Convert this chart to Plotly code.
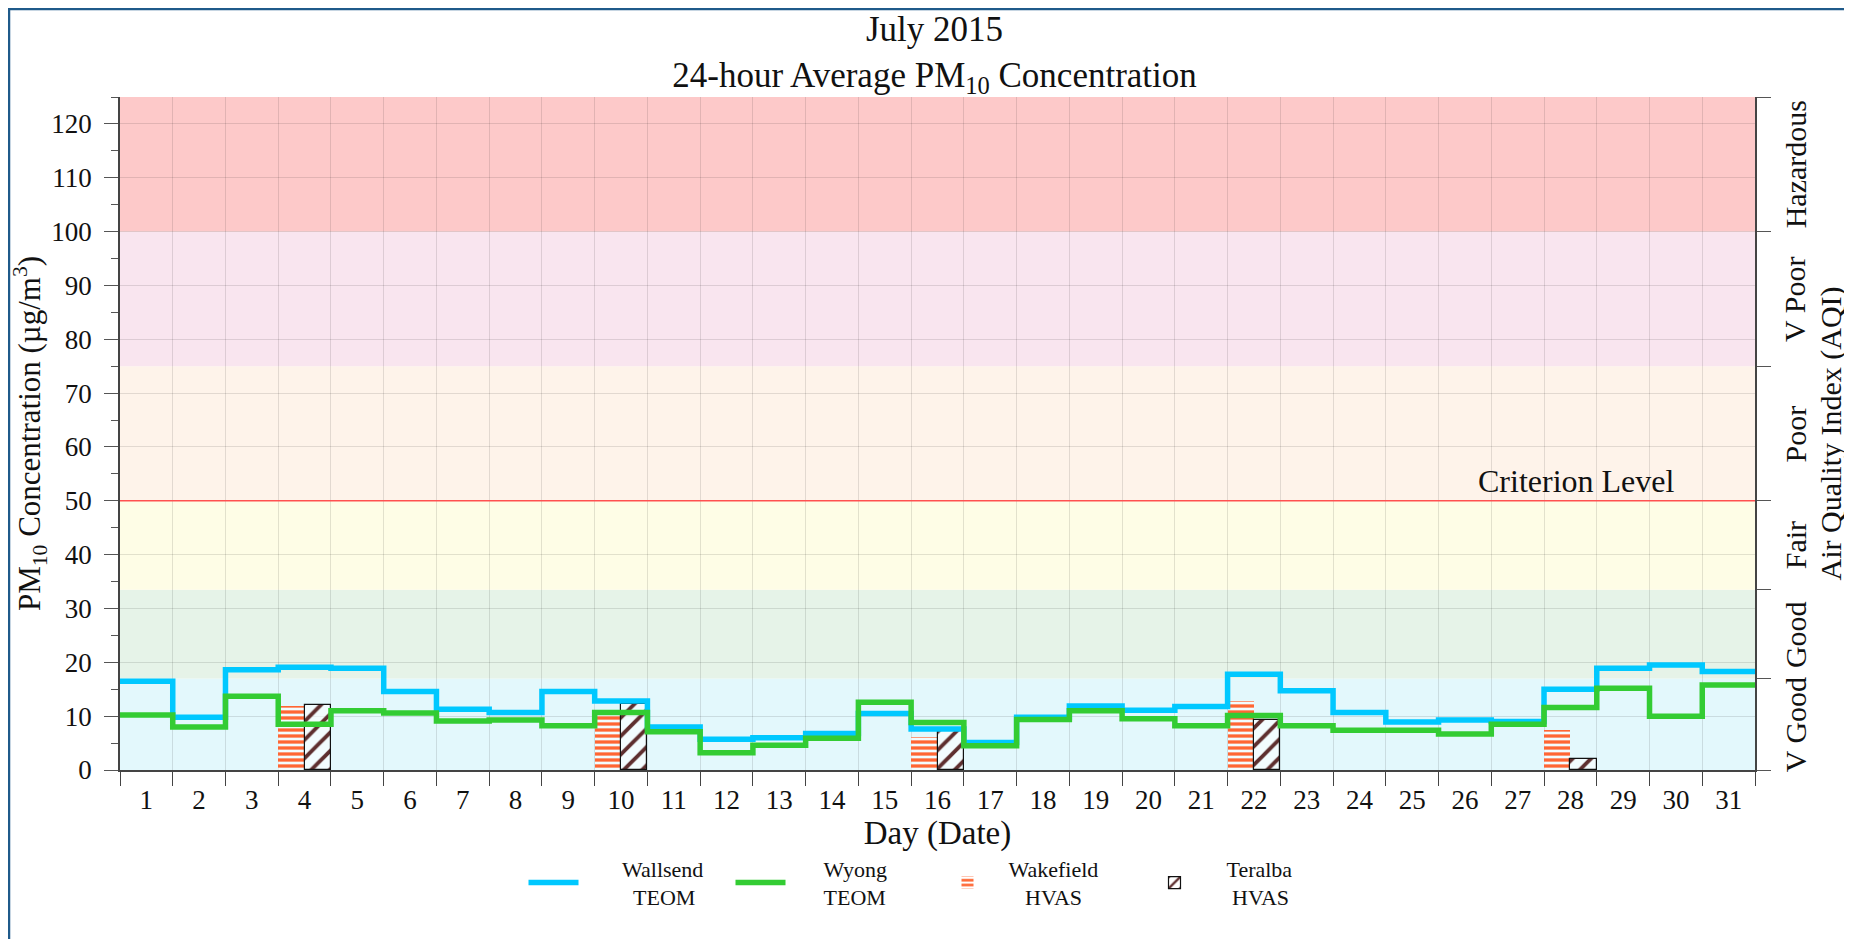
import plotly.graph_objects as go

# ---------------- data ----------------
days = list(range(1, 32))
wallsend_teom = [16.5, 9.8, 18.6, 19.1, 18.9, 14.6, 11.3, 10.7, 14.6, 12.8,
                 8.0, 5.7, 6.0, 6.8, 10.5, 7.6, 5.1, 9.8, 11.9, 11.1,
                 11.8, 17.8, 14.7, 10.7, 8.9, 9.3, 9.0, 15.0, 18.9, 19.5, 18.3]
wyong_teom = [10.2, 8.0, 13.7, 8.5, 11.0, 10.6, 9.1, 9.3, 8.2, 10.7,
              7.1, 3.2, 4.6, 5.9, 12.6, 8.8, 4.5, 9.4, 11.0, 9.5,
              8.2, 10.1, 8.2, 7.4, 7.4, 6.7, 8.5, 11.6, 15.2, 10.0, 15.8]
hvas_days = [4, 10, 16, 22, 28]
wakefield_hvas = [11.9, 10.5, 6.2, 12.9, 7.4]
teralba_hvas = [12.0, 12.2, 7.2, 9.3, 2.0]

aqi_bounds = [0, 17, 33.5, 50, 75, 100, 125]
aqi_labels = ["V Good", "Good", "Fair", "Poor", "V Poor", "Hazardous"]
aqi_colors = ["#e3f8fc", "#e6f3e8", "#fefde6", "#fef3ea", "#f9e5ef", "#fdc9c9"]
criterion_level = 50

FONT = "Liberation Serif"
NB = "\u00a0"


def two_line(a, b, lead, pad_b):
    return NB * lead + a + "<br>" + NB * (lead + pad_b) + b


# step edges
edges = [d - 0.5 for d in days] + [days[-1] + 0.5]

fig = go.Figure()

fig.add_trace(go.Bar(
    x=[d - 0.25 for d in hvas_days], y=wakefield_hvas, width=0.5,
    name=two_line("Wakefield", "HVAS", 2, 3), legendrank=3, opacity=1,
    marker=dict(color="#ff6a33", line=dict(width=0), opacity=1,
                pattern=dict(shape="-", fgcolor="#ff6633",
                             bgcolor="rgba(255,255,255,0.55)", size=6, solidity=0.55,
                             fillmode="replace")),
))
fig.add_trace(go.Bar(
    x=[d + 0.25 for d in hvas_days], y=teralba_hvas, width=0.5,
    name=two_line("Teralba", "HVAS", 4, 1), legendrank=4, opacity=1,
    marker=dict(color="#5e2f2f", line=dict(width=1.2, color="#111111"), opacity=1,
                pattern=dict(shape="/", fgcolor="#5e2f2f",
                             bgcolor="rgba(255,255,255,0.55)", size=13, solidity=0.3,
                             fillmode="replace")),
))
fig.add_trace(go.Scatter(
    x=edges, y=wallsend_teom + [wallsend_teom[-1]], mode="lines",
    line=dict(color="#00c8ff", width=5.5, shape="hv"),
    name=two_line("Wallsend", "TEOM", 7, 2), legendrank=1,
))
fig.add_trace(go.Scatter(
    x=edges, y=wyong_teom + [wyong_teom[-1]], mode="lines",
    line=dict(color="#33cc33", width=5.5, shape="hv"),
    name=two_line("Wyong", "TEOM", 6, 0), legendrank=2,
))

shapes = []
for i, lab in enumerate(aqi_labels):
    shapes.append(dict(type="rect", xref="paper", yref="y", x0=0, x1=1,
                       y0=aqi_bounds[i], y1=aqi_bounds[i + 1],
                       fillcolor=aqi_colors[i], line=dict(width=0), layer="below"))
shapes.append(dict(type="line", xref="paper", yref="y", x0=0, x1=1,
                   y0=criterion_level, y1=criterion_level,
                   line=dict(color="#ff5050", width=1.5), layer="above"))

W, H = 1852, 939
ml, mr, mt, mb = 112, 105, 89, 177
pw, ph = W - ml - mr, H - mt - mb
def px(xpix):
    return (xpix - ml) / pw
def py(ypix):
    return (H - mb - ypix) / ph

# outer border (top and left visible)
shapes.append(dict(type="rect", xref="paper", yref="paper",
                   x0=px(1), x1=px(W + 40), y0=py(H + 40), y1=py(1),
                   line=dict(color="#1f5a8a", width=2.5), fillcolor="rgba(0,0,0,0)",
                   layer="above"))

annotations = []
for i, lab in enumerate(aqi_labels):
    annotations.append(dict(text=lab, xref="paper", yref="y", x=px(1787),
                            y=(aqi_bounds[i] + aqi_bounds[i + 1]) / 2,
                            textangle=-90, showarrow=False,
                            xanchor="center", yanchor="middle",
                            font=dict(family=FONT, size=30, color="#111")))
annotations.append(dict(text="Air Quality Index (AQI)", xref="paper", yref="paper",
                        x=px(1822), y=0.5, textangle=-90, showarrow=False,
                        xanchor="center", yanchor="middle",
                        font=dict(family=FONT, size=30, color="#111")))
annotations.append(dict(text="Criterion Level", xref="x", yref="y",
                        x=30, y=criterion_level, showarrow=False,
                        xanchor="right", yanchor="bottom",
                        font=dict(family=FONT, size=32, color="#111")))

fig.update_layout(
    width=W, height=H,
    margin=dict(l=ml, r=mr, t=mt, b=mb),
    paper_bgcolor="white", plot_bgcolor="white",
    font=dict(family=FONT, color="#111"),
    barmode="overlay", bargap=0,
    title=dict(text="July 2015<br>24-hour Average PM<sub>10</sub> Concentration",
               x=px(930), xanchor="center", y=1 - 33 / H, yanchor="top",
               font=dict(family=FONT, size=35, color="#111")),
    showlegend=True,
    legend=dict(orientation="h", x=0.5, xanchor="center", y=py(875), yanchor="middle",
                font=dict(family=FONT, size=22, color="#111"),
                bgcolor="rgba(0,0,0,0)", itemwidth=50,
                entrywidth=142, entrywidthmode="pixels"),
    shapes=shapes,
    annotations=annotations,
    xaxis=dict(range=[0.5, 31.5], tickmode="array", tickvals=days,
               ticktext=[str(d) for d in days],
               ticks="outside", ticklen=5, tickcolor="rgba(0,0,0,0)",
               showgrid=False, zeroline=False,
               showline=True, linecolor="#444", linewidth=1.5,
               tickfont=dict(family=FONT, size=27, color="#111"),
               minor=dict(tick0=0.5, dtick=1, ticks="outside", ticklen=14,
                          tickcolor="#444", showgrid=True,
                          gridcolor="rgba(0,0,0,0.11)", gridwidth=1),
               title=dict(text="Day (Date)", standoff=0,
                          font=dict(family=FONT, size=33, color="#111"))),
    yaxis=dict(range=[0, 125], dtick=10, tick0=0, ticks="outside", ticklen=14,
               tickcolor="#555", showgrid=True, gridcolor="rgba(0,0,0,0.11)",
               zeroline=False, showline=True, linecolor="#444", linewidth=1.5,
               ticklabelstandoff=7,
               tickfont=dict(family=FONT, size=27, color="#111"),
               minor=dict(dtick=5, tick0=0, ticks="outside", ticklen=7,
                          tickcolor="#555", showgrid=False),
               title=dict(text="PM<sub>10</sub> Concentration (µg/m<sup>3</sup>)",
                          standoff=10,
                          font=dict(family=FONT, size=31, color="#111"))),
    yaxis2=dict(range=[0, 125], overlaying="y", side="right", anchor="x",
                tickmode="array", tickvals=aqi_bounds, ticks="outside", ticklen=14,
                tickcolor="#555", showticklabels=False, showgrid=False,
                zeroline=False, showline=True, linecolor="#444", linewidth=1.5),
)

# invisible trace to anchor yaxis2
fig.add_trace(go.Scatter(x=[days[0]], y=[0], yaxis="y2", mode="markers",
                         marker=dict(opacity=0), showlegend=False, hoverinfo="skip"))

fig.write_html("out.html")
